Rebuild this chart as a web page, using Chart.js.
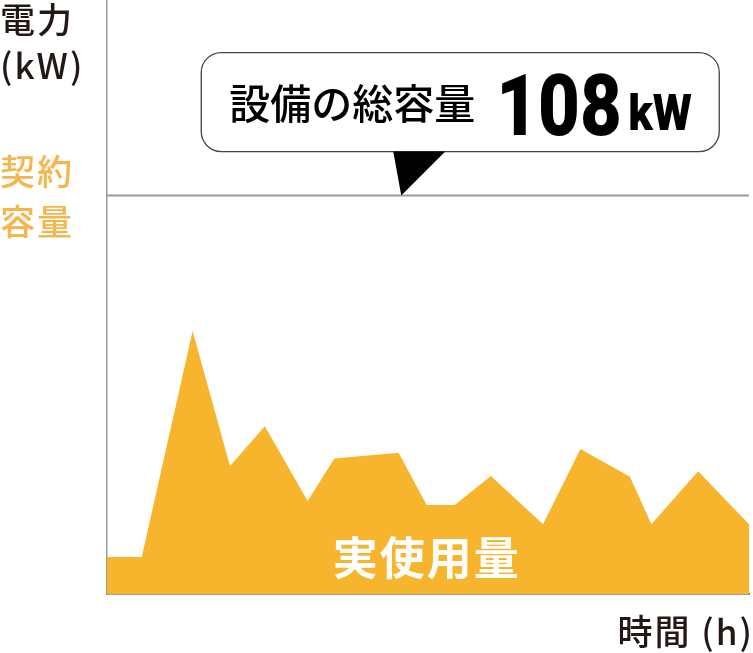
<!DOCTYPE html>
<html lang="ja">
<head>
<meta charset="utf-8">
<script src="https://cdn.jsdelivr.net/npm/chart.js@4.4.1/dist/chart.umd.min.js"></script>
<style>
  html, body { margin: 0; padding: 0; background: #fff; }
  #wrap { width: 753px; height: 653px; }
</style>
</head>
<body>
<div id="wrap"><canvas id="myChart" width="753" height="653"></canvas></div>
<script>
const hours = [0, 1.3, 3.2, 4.6, 5.9, 7.5, 8.5, 10.9, 11.95, 13, 14.35, 16.3, 17.7, 19.55, 20.35, 22.1, 24];
const usage = [10, 10, 71.3, 34.7, 45.5, 25.2, 36.7, 38.3, 24.1, 24.1, 32, 18.9, 39.3, 31.8, 18.9, 33.3, 18.9];
const capacity = 108;
const yMax = 161;
const labelUsage = '実使用量';
const labelCallout = '設備の総容量';
const labelX = '時間 (h)';

const cjk = '"Noto Sans CJK JP", "Noto Sans", sans-serif';
const orange = '#f7b52d';
const dark = '#231815';

const textPlugin = {
    id: 'texts',
    afterDatasetsDraw(chart) {
        const c = chart.ctx;
        const xs = chart.scales.x, ys = chart.scales.y;
        c.save();

        // axis labels on the left
        c.textBaseline = 'middle';
        c.textAlign = 'left';
        c.fillStyle = dark;
        c.font = '500 35px ' + cjk;
        c.letterSpacing = '2px';
        c.fillText('電力', 0, 20);
        c.fillText('(kW)', 0, 66);
        c.fillStyle = '#f5b64c';
        c.fillText('契約', 0, 172);
        c.fillText('容量', 0, 222);

        // usage label inside the area
        c.fillStyle = '#ffffff';
        c.font = 'bold 45px ' + cjk;
        c.letterSpacing = '2px';
        c.textAlign = 'center';
        c.fillText(labelUsage, xs.getPixelForValue(11.95), 558);

        // x axis title
        c.fillStyle = dark;
        c.font = '500 35px ' + cjk;
        c.letterSpacing = '2px';
        c.textAlign = 'right';
        c.fillText(labelX, 754, 632);
        c.letterSpacing = '0px';

        // callout pointing at the capacity line
        const tipX = xs.getPixelForValue(11);
        const tipY = ys.getPixelForValue(capacity);
        const bx = tipX - 200, by = tipY - 143, bw = 518, bh = 99, r = 20;
        c.beginPath();
        c.roundRect(bx, by, bw, bh, r);
        c.fillStyle = '#fff';
        c.fill();
        c.lineWidth = 1.3;
        c.strokeStyle = '#444';
        c.stroke();

        c.beginPath();
        c.moveTo(tipX - 8, by + bh);
        c.lineTo(tipX + 44, by + bh);
        c.lineTo(tipX, tipY);
        c.closePath();
        c.fillStyle = '#000';
        c.fill();

        c.fillStyle = '#000';
        c.textAlign = 'left';
        c.font = '500 41px ' + cjk;
        c.fillText(labelCallout, bx + 28, by + 51);

        c.textBaseline = 'alphabetic';
        c.save();
        c.translate(bx + 295, by + 82);
        c.scale(0.84, 1);
        c.font = '900 86px Roboto, sans-serif';
        c.fillText(String(capacity), 0, 0);
        c.restore();
        c.save();
        c.translate(bx + 427, by + 77);
        c.scale(0.9, 1);
        c.font = '900 50px Roboto, sans-serif';
        c.fillText('kW', 0, 0);
        c.restore();

        c.restore();
    }
};

const ctx = document.getElementById('myChart').getContext('2d');
const myChart = new Chart(ctx, {
    type: 'line',
    data: {
        datasets: [{
            label: '契約容量',
            data: [{x: hours[0], y: capacity}, {x: hours[hours.length - 1], y: capacity}],
            borderColor: '#9a9a9a',
            borderWidth: 2,
            pointRadius: 0,
            fill: false
        }, {
            label: labelUsage,
            data: hours.map((h, i) => ({x: h, y: usage[i]})),
            backgroundColor: orange,
            borderColor: orange,
            borderWidth: 0,
            pointRadius: 0,
            tension: 0,
            fill: 'origin'
        }]
    },
    options: {
        responsive: false,
        devicePixelRatio: 1,
        animation: false,
        events: [],
        layout: { padding: { left: 107, right: 4, top: 0, bottom: 59 } },
        plugins: { legend: { display: false }, tooltip: { enabled: false } },
        scales: {
            x: {
                type: 'linear', min: 0, max: 24,
                grid: { display: false, drawTicks: false },
                ticks: { display: false },
                border: { color: '#4d4036', width: 1.5 }
            },
            y: {
                min: 0, max: yMax,
                grid: { display: false, drawTicks: false },
                ticks: { display: false },
                border: { color: '#9a9a9a', width: 1.5 }
            }
        }
    },
    plugins: [textPlugin]
});
</script>
</body>
</html>
